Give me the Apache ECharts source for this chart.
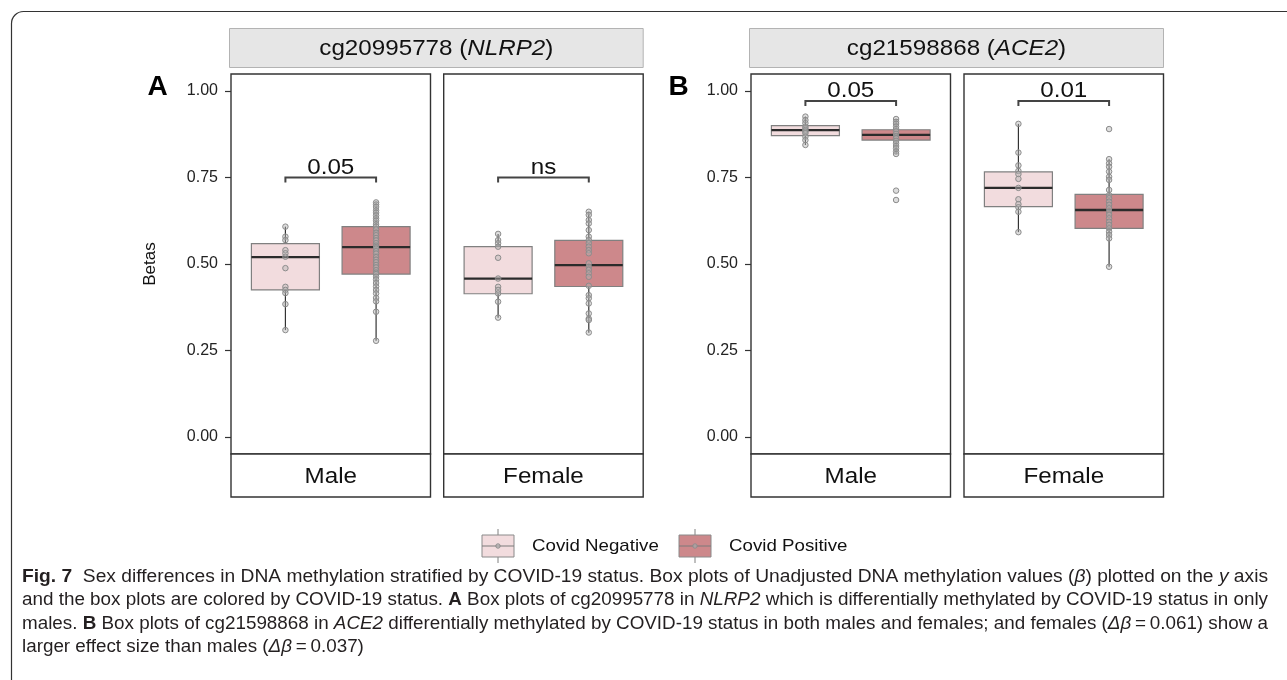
<!DOCTYPE html>
<html><head><meta charset="utf-8">
<script src="https://cdn.jsdelivr.net/npm/echarts@6/dist/echarts.min.js"></script>
<style>html,body{margin:0;padding:0;background:#fff}#c{width:1287px;height:680px}</style>
</head><body><div id="c"></div>
<script>
// ---------------- DATA ----------------
const groups = ['Covid Negative', 'Covid Positive'];
const sexes = ['Male', 'Female'];
const probeIds = ['cg20995778', 'cg21598868'];
const genes = ['NLRP2', 'ACE2'];
const panelTags = ['A', 'B'];
const yTicks = [0, 0.25, 0.5, 0.75, 1];

// box stats: [lower whisker, Q1, median, Q3, upper whisker]
const boxA_Male_Neg   = [0.309, 0.425, 0.520, 0.559, 0.608];
const boxA_Male_Pos   = [0.278, 0.471, 0.549, 0.608, 0.678];
const boxA_Female_Neg = [0.345, 0.414, 0.458, 0.550, 0.587];
const boxA_Female_Pos = [0.301, 0.435, 0.497, 0.568, 0.651];
const boxB_Male_Neg   = [0.844, 0.871, 0.887, 0.900, 0.926];
const boxB_Male_Pos   = [0.818, 0.858, 0.873, 0.888, 0.919];
const boxB_Female_Neg = [0.592, 0.666, 0.720, 0.766, 0.905];
const boxB_Female_Pos = [0.492, 0.603, 0.656, 0.701, 0.803];

// individual samples
const ptsA_Male_Neg = [0.608, 0.579, 0.569, 0.540, 0.531, 0.521, 0.488, 0.434, 0.425, 0.416, 0.384, 0.309];
const ptsA_Male_Pos = [0.678, 0.672, 0.665, 0.655, 0.648, 0.640, 0.632, 0.625, 0.615, 0.608, 0.600, 0.590, 0.583, 0.575, 0.568, 0.560, 0.553, 0.549, 0.545, 0.537, 0.530, 0.520, 0.512, 0.505, 0.497, 0.490, 0.482, 0.475, 0.471, 0.463, 0.455, 0.445, 0.435, 0.425, 0.415, 0.402, 0.392, 0.362, 0.278];
const ptsA_Female_Neg = [0.587, 0.569, 0.560, 0.550, 0.518, 0.458, 0.434, 0.425, 0.415, 0.391, 0.345];
const ptsA_Female_Pos = [0.651, 0.642, 0.627, 0.617, 0.598, 0.579, 0.569, 0.560, 0.550, 0.540, 0.531, 0.502, 0.492, 0.483, 0.473, 0.463, 0.437, 0.410, 0.401, 0.386, 0.357, 0.342, 0.338, 0.302];
const ptsB_Male_Neg = [0.926, 0.916, 0.907, 0.897, 0.892, 0.887, 0.883, 0.878, 0.868, 0.858, 0.844];
const ptsB_Male_Pos = [0.919, 0.911, 0.905, 0.897, 0.890, 0.883, 0.876, 0.870, 0.863, 0.856, 0.849, 0.841, 0.834, 0.825, 0.818, 0.712, 0.685];
const ptsB_Female_Neg = [0.905, 0.822, 0.785, 0.769, 0.760, 0.746, 0.720, 0.687, 0.673, 0.664, 0.651, 0.592];
const ptsB_Female_Pos = [0.890, 0.803, 0.791, 0.781, 0.767, 0.752, 0.743, 0.714, 0.699, 0.690, 0.680, 0.671, 0.661, 0.651, 0.642, 0.632, 0.622, 0.613, 0.603, 0.593, 0.584, 0.574, 0.492];

// significance annotations (per sex)
const pLabelsA = ['0.05', 'ns'];
const pLabelsB = ['0.05', '0.01'];
const bracketYA = [0.75, 0.75];
const bracketYB = [0.971, 0.971];

const axisTitle = 'Betas';

const captionLines = [
  [['b', 'Fig. 7'], ['n', '  Sex differences in DNA methylation stratified by COVID-19 status. Box plots of Unadjusted DNA methylation values ('], ['i', 'β'], ['n', ') plotted on the '], ['i', 'y'], ['n', ' axis']],
  [['n', 'and the box plots are colored by COVID-19 status. '], ['b', 'A'], ['n', ' Box plots of cg20995778 in '], ['i', 'NLRP2'], ['n', ' which is differentially methylated by COVID-19 status in only']],
  [['n', 'males. '], ['b', 'B'], ['n', ' Box plots of cg21598868 in '], ['i', 'ACE2'], ['n', ' differentially methylated by COVID-19 status in both males and females; and females ('], ['i', 'Δβ'], ['n', '\u2009=\u20090.061) show a']],
  [['n', 'larger effect size than males ('], ['i', 'Δβ'], ['n', '\u2009=\u20090.037)']]
];

// ---------------- LAYOUT / STYLE ----------------
const FONT = "'Liberation Sans', Arial, Helvetica, sans-serif";
const CAP_FONT = "'Liberation Sans', Arial, sans-serif";
const gridLefts = [231, 443.7, 751, 964];
const gridWidth = 199.5;
const gridTop = 74, gridHeight = 380, stripH = 43;
const boxColors = ['#f2dcde', '#cd888b'];
const SX = 1.1; // horizontal stretch of the original figure text

const panels = [
  { box: [boxA_Male_Neg, boxA_Male_Pos], pts: [ptsA_Male_Neg, ptsA_Male_Pos], p: pLabelsA[0], by: bracketYA[0], sex: sexes[0] },
  { box: [boxA_Female_Neg, boxA_Female_Pos], pts: [ptsA_Female_Neg, ptsA_Female_Pos], p: pLabelsA[1], by: bracketYA[1], sex: sexes[1] },
  { box: [boxB_Male_Neg, boxB_Male_Pos], pts: [ptsB_Male_Neg, ptsB_Male_Pos], p: pLabelsB[0], by: bracketYB[0], sex: sexes[0] },
  { box: [boxB_Female_Neg, boxB_Female_Pos], pts: [ptsB_Female_Neg, ptsB_Female_Pos], p: pLabelsB[1], by: bracketYB[1], sex: sexes[1] }
];

function renderBox(params, api) {
  const x = api.value(0);
  const w = api.size([0.75, 0])[0];
  const top = api.coord([x, api.value(5)]);
  const q3 = api.coord([x, api.value(4)]);
  const med = api.coord([x, api.value(3)]);
  const q1 = api.coord([x, api.value(2)]);
  const bot = api.coord([x, api.value(1)]);
  const ls = { stroke: '#333', lineWidth: 1.2 };
  return {
    type: 'group', children: [
      { type: 'line', shape: { x1: top[0], y1: top[1], x2: q3[0], y2: q3[1] }, style: ls },
      { type: 'line', shape: { x1: q1[0], y1: q1[1], x2: bot[0], y2: bot[1] }, style: ls },
      { type: 'rect', shape: { x: q3[0] - w / 2, y: q3[1], width: w, height: q1[1] - q3[1] }, style: { fill: boxColors[x], stroke: '#808080', lineWidth: 1.2 } },
      { type: 'line', shape: { x1: med[0] - w / 2, y1: med[1], x2: med[0] + w / 2, y2: med[1] }, style: { stroke: '#2b2b2b', lineWidth: 2.3 } }
    ]
  };
}

function makeBracket(label) {
  return function (params, api) {
    const y = api.value(2);
    const a = api.coord([api.value(0), y]);
    const b = api.coord([api.value(1), y]);
    return {
      type: 'group', children: [
        { type: 'polyline', shape: { points: [[a[0], a[1] + 5], [a[0], a[1]], [b[0], b[1]], [b[0], b[1] + 5]] }, style: { stroke: '#444', lineWidth: 2, fill: null } },
        { type: 'text', x: (a[0] + b[0]) / 2, y: a[1] + 1, scaleX: SX, style: { text: label, fontSize: 22, fontFamily: FONT, fill: '#111', align: 'center', verticalAlign: 'bottom' } }
      ]
    };
  };
}

const grids = [], xAxes = [], yAxes = [], series = [];
panels.forEach((p, i) => {
  const isFirst = (i % 2 === 0);
  grids.push({ left: gridLefts[i], top: gridTop, width: gridWidth, height: gridHeight, show: true, borderColor: '#333', borderWidth: 1.4, backgroundColor: '#fff' });
  xAxes.push({ gridIndex: i, type: 'value', min: -0.6, max: 1.6, show: false, axisLine: { onZero: false } });
  yAxes.push({
    gridIndex: i, type: 'value', min: -0.0491, max: 1.0491, position: 'left',
    axisLine: { show: false, onZero: false }, splitLine: { show: false },
    axisTick: { show: isFirst, customValues: yTicks, length: 6, lineStyle: { color: '#333', width: 1.2 } },
    axisLabel: { show: isFirst, customValues: yTicks, formatter: v => v.toFixed(2), fontSize: 16, color: '#222', margin: 13, fontFamily: FONT },
    name: i === 0 ? axisTitle : '', nameLocation: 'middle', nameGap: 72,
    nameTextStyle: { fontSize: 17, color: '#111', fontFamily: FONT }
  });
  series.push({
    type: 'custom', xAxisIndex: i, yAxisIndex: i, z: 2, silent: true,
    data: p.box.map((b, g) => [g].concat(b)), renderItem: renderBox
  });
  const pd = [];
  p.pts.forEach((arr, g) => arr.forEach(v => pd.push([g, v])));
  series.push({
    type: 'scatter', xAxisIndex: i, yAxisIndex: i, z: 3, silent: true,
    symbolSize: 5.5, data: pd,
    itemStyle: { color: 'rgba(180,180,180,0.45)', borderColor: '#8c8c8c', borderWidth: 1, opacity: 1 }
  });
  series.push({
    type: 'custom', xAxisIndex: i, yAxisIndex: i, z: 4, silent: true,
    data: [[0, 1, p.by]], renderItem: makeBracket(p.p)
  });
});

// ---------- graphic decorations ----------
const gfx = [];
// outer frame
gfx.push({ type: 'rect', z: -10, shape: { x: 11.5, y: 11.5, width: 1400, height: 800, r: [12, 0, 0, 0] }, style: { fill: 'none', stroke: '#333', lineWidth: 1.2 } });

// top strips (one per probe)
[0, 1].forEach(k => {
  const x0 = gridLefts[2 * k] - 1.5, x1 = gridLefts[2 * k + 1] + gridWidth;
  gfx.push({ type: 'rect', shape: { x: x0, y: 28.5, width: x1 - x0, height: 39 }, style: { fill: '#e6e6e6', stroke: '#b3b3b3', lineWidth: 1 } });
  gfx.push({ type: 'text', x: (x0 + x1) / 2, y: 48.5, scaleX: SX, style: { text: probeIds[k] + ' ({i|' + genes[k] + '})', rich: { i: { fontStyle: 'italic', fontSize: 22, fontFamily: FONT, fill: '#111' } }, fontSize: 22, fontFamily: FONT, fill: '#111', align: 'center', verticalAlign: 'middle' } });
  gfx.push({ type: 'text', x: [157.5, 678.5][k], y: 87, style: { text: panelTags[k], fontSize: 28, fontWeight: 'bold', fontFamily: FONT, fill: '#000', align: 'center', verticalAlign: 'middle' } });
});

// bottom strips (sex)
panels.forEach((p, i) => {
  gfx.push({ type: 'rect', shape: { x: gridLefts[i], y: gridTop + gridHeight, width: gridWidth, height: stripH }, style: { fill: '#fff', stroke: '#333', lineWidth: 1.4 } });
  gfx.push({ type: 'text', x: gridLefts[i] + gridWidth / 2, y: gridTop + gridHeight + stripH / 2 + 1, scaleX: SX, style: { text: p.sex, fontSize: 22, fontFamily: FONT, fill: '#111', align: 'center', verticalAlign: 'middle' } });
});

// legend
const legKeyX = [482, 679], legTextX = [532, 729], legY = 546;
groups.forEach((g, k) => {
  const kx = legKeyX[k], cx = kx + 16;
  gfx.push({ type: 'line', shape: { x1: cx, y1: legY - 17, x2: cx, y2: legY - 11 }, style: { stroke: '#808080', lineWidth: 1 } });
  gfx.push({ type: 'line', shape: { x1: cx, y1: legY + 11, x2: cx, y2: legY + 17 }, style: { stroke: '#808080', lineWidth: 1 } });
  gfx.push({ type: 'rect', shape: { x: kx, y: legY - 11, width: 32, height: 22 }, style: { fill: boxColors[k], stroke: '#8a8a8a', lineWidth: 1 } });
  gfx.push({ type: 'line', shape: { x1: kx, y1: legY, x2: kx + 32, y2: legY }, style: { stroke: '#7a7a7a', lineWidth: 1 } });
  gfx.push({ type: 'circle', shape: { cx: cx, cy: legY, r: 2.2 }, style: { fill: 'rgba(180,180,180,0.6)', stroke: '#8c8c8c', lineWidth: 1 } });
  gfx.push({ type: 'text', x: legTextX[k], y: legY, scaleX: SX, style: { text: g, fontSize: 17, fontFamily: FONT, fill: '#111', align: 'left', verticalAlign: 'middle' } });
});

// caption
const CAP_SIZE = 17.5;
const mctx = document.createElement('canvas').getContext('2d');
function segFont(t) { return (t === 'i' ? 'italic ' : '') + (t === 'b' ? 'bold ' : '') + CAP_SIZE + 'px ' + CAP_FONT; }
function lineWidth(segs) { let w = 0; segs.forEach(s => { mctx.font = segFont(s[0]); w += mctx.measureText(s[1]).width; }); return w; }
const capX = 22, capRight = 1268, capY = [577, 600.5, 624, 647.5];
let lastScale = 1;
captionLines.forEach((segs, li) => {
  const w = lineWidth(segs);
  let sc = li < 3 ? (capRight - capX) / w : lastScale;
  lastScale = sc;
  const txt = segs.map(s => s[0] === 'n' ? s[1] : '{' + s[0] + '|' + s[1] + '}').join('');
  gfx.push({ type: 'text', x: capX, y: capY[li], scaleX: sc, style: {
    text: txt, fontSize: CAP_SIZE, fontFamily: CAP_FONT, fill: '#231f20', align: 'left', verticalAlign: 'middle',
    rich: {
      b: { fontWeight: 'bold', fontSize: CAP_SIZE, fontFamily: CAP_FONT, fill: '#231f20' },
      i: { fontStyle: 'italic', fontSize: CAP_SIZE, fontFamily: CAP_FONT, fill: '#231f20' }
    } } });
});

const chart = echarts.init(document.getElementById('c'), null, { renderer: 'canvas' });
chart.setOption({
  animation: false,
  backgroundColor: '#fff',
  textStyle: { fontFamily: FONT },
  grid: grids, xAxis: xAxes, yAxis: yAxes, series: series,
  graphic: { elements: gfx }
});
</script></body></html>
